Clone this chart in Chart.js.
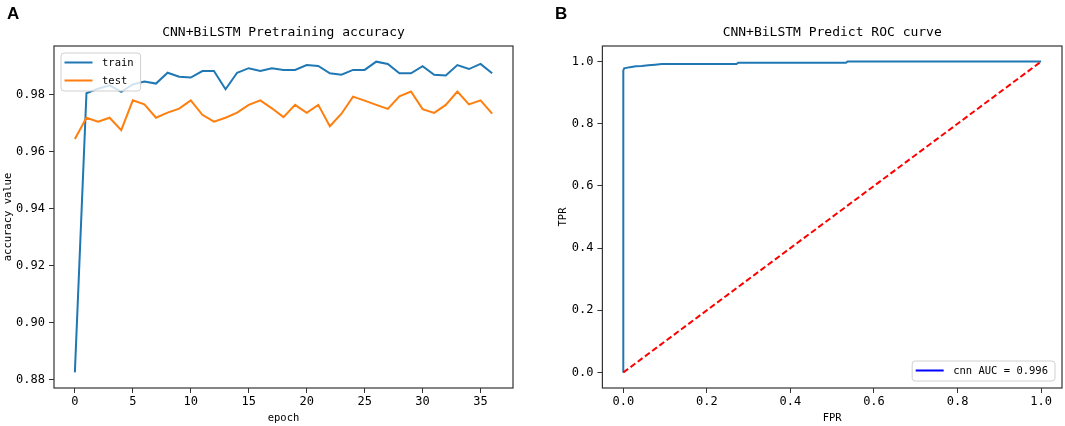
<!DOCTYPE html>
<html><head><meta charset="utf-8">
<script src="https://cdn.jsdelivr.net/npm/chart.js@4.4.0/dist/chart.umd.min.js"></script>
<style>
html,body{margin:0;padding:0;background:#fff;}
#wrap{position:relative;width:1065px;height:426px;overflow:hidden;background:#fff;}
#c1{position:absolute;left:0;top:0;}
#c2{position:absolute;left:540px;top:0;}
</style></head><body>
<div id="wrap"><canvas id="c1" width="540" height="426"></canvas><canvas id="c2" width="525" height="426"></canvas></div>
<script>
// ---------- data ----------
const epochs = [0,1,2,3,4,5,6,7,8,9,10,11,12,13,14,15,16,17,18,19,20,21,22,23,24,25,26,27,28,29,30,31,32,33,34,35,36];
const trainAcc = [0.8825,0.9806,0.9822,0.9834,0.9811,0.9837,0.9847,0.9840,0.9878,0.9864,
                  0.9861,0.9884,0.9884,0.9820,0.9878,0.9894,0.9884,0.9894,0.9888,0.9888,
                  0.9905,0.9902,0.9876,0.9871,0.9888,0.9888,0.9917,0.9909,0.9876,0.9876,
                  0.9901,0.9871,0.9868,0.9905,0.9891,0.9909,0.9876];
const testAcc  = [0.9645,0.9720,0.9706,0.9720,0.9676,0.9781,0.9767,0.9720,0.9738,0.9752,
                  0.9781,0.9730,0.9706,0.9720,0.9738,0.9765,0.9781,0.9753,0.9722,0.9765,
                  0.9737,0.9765,0.9690,0.9734,0.9794,0.9780,0.9765,0.9751,0.9795,0.9812,
                  0.9750,0.9737,0.9765,0.9812,0.9767,0.9781,0.9734];
const accTicks   = [0.88,0.90,0.92,0.94,0.96,0.98];
const epochTicks = [0,5,10,15,20,25,30,35];

const rocFPR = [0,0,0.002,0.016,0.030,0.044,0.060,0.076,0.092,0.271,0.275,0.533,0.537,1.0];
const rocTPR = [0,0.971,0.978,0.982,0.985,0.986,0.988,0.990,0.992,0.992,0.996,0.996,1.0,1.0];
const diagFPR = [0,1];
const diagTPR = [0,1];
const rocTicks = [0,0.2,0.4,0.6,0.8,1.0];

// ---------- helpers ----------
const MONO = '"DejaVu Sans Mono", "Liberation Mono", monospace';
const pts = (xs, ys) => xs.map((x,i)=>({x:x, y:ys[i]}));

const framePlugin = {
  id:'frame',
  afterDatasetsDraw(chart){
    const {ctx, chartArea:a} = chart;
    ctx.save();
    ctx.strokeStyle = '#333'; ctx.lineWidth = 1.2;
    ctx.strokeRect(a.left, a.top, a.right-a.left, a.bottom-a.top);
    ctx.restore();
  }
};

const innerLegend = {
  id:'innerLegend',
  afterDraw(chart, args, o){
    if (!o || !o.corner) return;
    const {ctx, chartArea:a} = chart;
    const items = chart.data.datasets.filter(d=>d.label).sort((p,q)=>(p.legendIndex||0)-(q.legendIndex||0));
    ctx.save();
    ctx.font = '10.5px ' + MONO;
    let tw = 0;
    items.forEach(d=>{ tw = Math.max(tw, ctx.measureText(d.label).width); });
    const w = 41 + tw + 7, h = items.length*18 + 2;
    const x = o.corner==='tl' ? a.left+7 : a.right-7-w;
    const y = o.corner==='tl' ? a.top+7 : a.bottom-7-h;
    ctx.beginPath();
    if (ctx.roundRect) ctx.roundRect(x, y, w, h, 3); else ctx.rect(x,y,w,h);
    ctx.fillStyle = 'rgba(255,255,255,0.8)'; ctx.fill();
    ctx.strokeStyle = '#d0d0d0'; ctx.lineWidth = 1; ctx.stroke();
    items.forEach((d,i)=>{
      const cy = y + 9.5 + i*18;
      ctx.strokeStyle = d.legendColor || d.borderColor; ctx.lineWidth = 2; ctx.setLineDash([]);
      ctx.beginPath(); ctx.moveTo(x+3.5, cy); ctx.lineTo(x+31.5, cy); ctx.stroke();
      ctx.fillStyle = '#000'; ctx.textBaseline = 'middle'; ctx.textAlign = 'left';
      ctx.fillText(d.label, x+41, cy+0.5);
    });
    ctx.restore();
  }
};

const panelLabel = {
  id:'panelLabel',
  afterDraw(chart, args, o){
    if (!o || !o.text) return;
    const ctx = chart.ctx;
    ctx.save();
    ctx.font = 'bold 17px "Liberation Sans", Arial, sans-serif';
    ctx.fillStyle = '#000'; ctx.textBaseline = 'alphabetic'; ctx.textAlign = 'left';
    ctx.fillText(o.text, o.x, o.y);
    ctx.restore();
  }
};

function axisCommon(tickArr, fmt, afterFit){
  return {
    type:'linear',
    afterBuildTicks: s => { s.ticks = tickArr.map(v=>({value:v})); },
    afterFit: afterFit,
    grid:{display:true, drawOnChartArea:false, drawTicks:true, tickLength:5, color:'#333', lineWidth:1},
    border:{display:false},
    ticks:{font:{family:MONO, size:12}, color:'#000', maxRotation:0, autoSkip:false, callback: v => fmt(v)}
  };
}

function titleOpts(text){
  return {display:true, text:text, fullSize:false, color:'#000',
          font:{family:MONO, size:13, weight:'normal'}, padding:{top:25.2, bottom:5.2}};
}

// ---------- chart A ----------
const xA = axisCommon(epochTicks, v=>String(v), s=>{ s.height = 38; });
xA.min = -1.8; xA.max = 37.8; xA.ticks.padding = 2;
xA.title = {display:true, text:'epoch', color:'#000', font:{family:MONO, size:10.5}, padding:{top:0, bottom:1}};
const yA = axisCommon(accTicks, v=>v.toFixed(2), s=>{ s.width = 54; });
yA.min = 0.877; yA.max = 0.9972; yA.ticks.padding = 4;
yA.title = {display:true, text:'accuracy value', color:'#000', font:{family:MONO, size:10.5}, padding:{top:2, bottom:0}};

new Chart(document.getElementById('c1'), {
  type:'line',
  data:{datasets:[
    {label:'train', data:pts(epochs, trainAcc), borderColor:'#1f77b4', borderWidth:2, pointRadius:0, tension:0, fill:false, order:2, legendIndex:0},
    {label:'test',  data:pts(epochs, testAcc),  borderColor:'#ff7f0e', borderWidth:2, pointRadius:0, tension:0, fill:false, order:1, legendIndex:1}
  ]},
  options:{
    responsive:false, animation:false, events:[],
    layout:{padding:{left:0, right:27, top:0, bottom:0}},
    scales:{x:xA, y:yA},
    plugins:{
      legend:{display:false}, tooltip:{enabled:false},
      title:titleOpts('CNN+BiLSTM Pretraining accuracy'),
      innerLegend:{corner:'tl'},
      panelLabel:{text:'A', x:7, y:18.5}
    }
  },
  plugins:[framePlugin, innerLegend, panelLabel]
});

// ---------- chart B ----------
const xB = axisCommon(rocTicks, v=>v.toFixed(1), s=>{ s.height = 38; });
xB.min = -0.05; xB.max = 1.05; xB.ticks.padding = 2;
xB.title = {display:true, text:'FPR', color:'#000', font:{family:MONO, size:10.5}, padding:{top:0, bottom:1}};
const yB = axisCommon(rocTicks, v=>v.toFixed(1), s=>{ s.width = 62.4; });
yB.min = -0.05; yB.max = 1.05; yB.ticks.padding = 4;
yB.title = {display:true, text:'TPR', color:'#000', font:{family:MONO, size:10.5}, padding:{top:16.7, bottom:0}};

new Chart(document.getElementById('c2'), {
  type:'line',
  data:{datasets:[
    {data:pts(diagFPR, diagTPR), borderColor:'#ff0000', borderWidth:2, borderDash:[6,3], pointRadius:0, tension:0, fill:false, order:1},
    {label:'cnn AUC = 0.996', data:pts(rocFPR, rocTPR), borderColor:'#1f77b4', legendColor:'#0000ff', borderWidth:2, pointRadius:0, tension:0, fill:false, order:2, legendIndex:0}
  ]},
  options:{
    responsive:false, animation:false, events:[],
    layout:{padding:{left:0, right:3, top:0, bottom:0}},
    scales:{x:xB, y:yB},
    plugins:{
      legend:{display:false}, tooltip:{enabled:false},
      title:titleOpts('CNN+BiLSTM Predict ROC curve'),
      innerLegend:{corner:'br'},
      panelLabel:{text:'B', x:15, y:18.5}
    }
  },
  plugins:[framePlugin, innerLegend, panelLabel]
});
</script>
</body></html>
